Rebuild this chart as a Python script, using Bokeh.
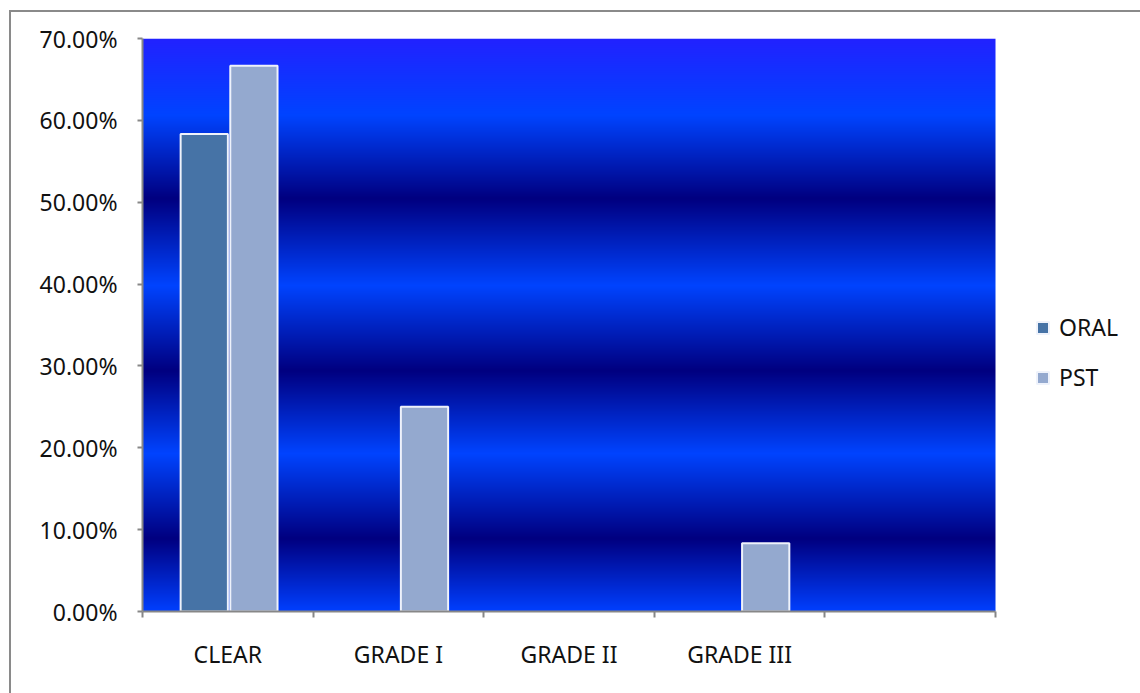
import numpy as np
from bokeh.plotting import figure
from bokeh.models import (ColumnDataSource, FixedTicker, NumeralTickFormatter,
                          Legend, LegendItem, Range1d)
from bokeh.embed import file_html
from bokeh.resources import INLINE

# ---- data -------------------------------------------------------------
categories = ["CLEAR", "GRADE I", "GRADE II", "GRADE III", ""]
oral = [0.5833, 0.0, 0.0, 0.0, 0.0]
pst = [0.6667, 0.25, 0.0, 0.0833, 0.0]
y_ticks = [0.0, 0.1, 0.2, 0.3, 0.4, 0.5, 0.6, 0.7]

FONT = "Noto Sans"
AXIS_GREY = "#878787"
ORAL_COLOR = "#4673a6"
PST_COLOR = "#94a9cf"

n = len(categories)
y_max = y_ticks[-1]

# the frame runs to the right edge so the legend has room beside the bars;
# the category axis itself stops at n
CAT_PX = 170.6
FRAME_W = 1000
x_end = FRAME_W / CAT_PX

p = figure(width=1131, height=683, output_backend="svg", toolbar_location=None,
           x_range=Range1d(0, x_end), y_range=Range1d(0, y_max),
           min_border_left=131, min_border_right=0, min_border_top=26,
           min_border_bottom=84)
p.styles = {"margin-left": "9px", "margin-top": "10px",
            "border-top": "2px solid #8a8a8a", "border-left": "2px solid #8a8a8a"}
p.background_fill_color = "white"
p.border_fill_color = "white"
p.outline_line_color = None
p.grid.visible = False

# ---- striped blue backdrop of the plot area ----------------------------
H = 573
stops_px = [0, 77, 160, 247, 332, 415, 500, 573]
stops_rgb = [(0x22, 0x22, 0xff), (0x00, 0x44, 0xff), (0x00, 0x00, 0x80),
             (0x00, 0x44, 0xff), (0x00, 0x00, 0x80), (0x00, 0x44, 0xff),
             (0x00, 0x00, 0x80), (0x00, 0x40, 0xff)]
py = H - np.arange(H) - 0.5          # row 0 is the bottom of the image
img = np.empty((H, 1), dtype=np.uint32)
view = img.view(dtype=np.uint8).reshape((H, 1, 4))
for c in range(3):
    view[:, 0, c] = np.interp(py, stops_px, [s[c] for s in stops_rgb]).astype(np.uint8)
view[:, 0, 3] = 255
p.image_rgba(image=[img], x=0, y=0, dw=n, dh=y_max)

# ---- bars --------------------------------------------------------------
bar_w = 0.277
def series_source(values, offset):
    xs = [i + 0.5 + offset for i, v in enumerate(values) if v > 0]
    tops = [v for v in values if v > 0]
    return ColumnDataSource(dict(x=xs, top=tops))

r_oral = p.vbar(x="x", top="top", width=bar_w, source=series_source(oral, -0.138),
                fill_color=ORAL_COLOR, line_color="#eef2fb", line_width=2)
r_pst = p.vbar(x="x", top="top", width=bar_w, source=series_source(pst, 0.153),
               fill_color=PST_COLOR, line_color="#eef2fb", line_width=2)

# ---- axes --------------------------------------------------------------
xa = p.xaxis[0]
xa.bounds = (0, n)
xa.ticker = FixedTicker(ticks=[i + 0.5 for i in range(n)],
                        minor_ticks=list(range(n + 1)))
xa.major_label_overrides = {i + 0.5: c for i, c in enumerate(categories)}
xa.major_tick_line_color = None
xa.minor_tick_line_color = AXIS_GREY
xa.minor_tick_line_width = 2
xa.minor_tick_out = 6
xa.minor_tick_in = 0
xa.axis_line_color = AXIS_GREY
xa.axis_line_width = 2
xa.major_label_standoff = 20
xa.major_label_text_font = FONT
xa.major_label_text_font_size = "23px"
xa.major_label_text_color = "#111111"

ya = p.yaxis[0]
ya.ticker = FixedTicker(ticks=y_ticks)
ya.formatter = NumeralTickFormatter(format="0.00%")
ya.minor_tick_line_color = None
ya.major_tick_line_color = AXIS_GREY
ya.major_tick_line_width = 2
ya.major_tick_out = 5
ya.major_tick_in = 0
ya.axis_line_color = AXIS_GREY
ya.axis_line_width = 2
ya.major_label_standoff = 20
ya.major_label_text_font = FONT
ya.major_label_text_font_size = "23px"
ya.major_label_text_color = "#111111"

# ---- legend ------------------------------------------------------------
legend = Legend(items=[LegendItem(label="ORAL", renderers=[r_oral]),
                       LegendItem(label="PST", renderers=[r_pst])],
                location=(893, 218), orientation="vertical",
                glyph_width=15, glyph_height=15, label_standoff=9,
                label_height=23, spacing=18, padding=0, margin=0,
                label_text_font=FONT, label_text_font_size="23px",
                label_text_color="#111111",
                border_line_color=None, background_fill_alpha=0)
p.add_layout(legend, "center")

open("out.html", "w").write(file_html(p, INLINE))
